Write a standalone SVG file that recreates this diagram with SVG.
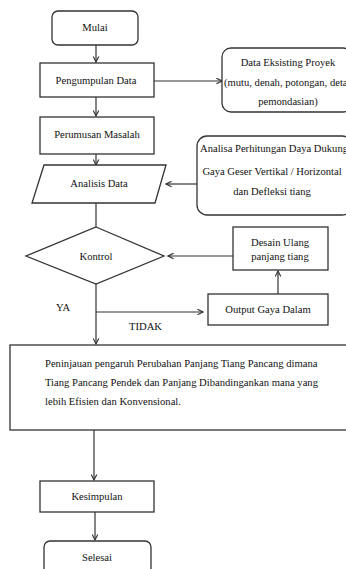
<svg xmlns="http://www.w3.org/2000/svg" width="346" height="569" viewBox="0 0 346 569">
<style>
.b{fill:#fff;stroke:#333;stroke-width:1.3}
.c{fill:none;stroke:#333;stroke-width:1.2}
text{font-family:"Liberation Serif","Times New Roman",serif;font-size:10.6px;fill:#111}
.m{text-anchor:middle}
</style>
<defs>
<marker id="a" viewBox="0 0 10 10" refX="9" refY="5" markerWidth="7" markerHeight="7" orient="auto" markerUnits="userSpaceOnUse">
<path d="M1,1 L9,5 L1,9" fill="none" stroke="#333" stroke-width="1.6"/>
</marker>
</defs>
<rect width="346" height="569" fill="#fff"/>
<g id="connectors" class="c">
<line x1="96" y1="45" x2="96" y2="62" marker-end="url(#a)"/>
<line x1="154" y1="81" x2="222" y2="81" marker-end="url(#a)"/>
<line x1="96" y1="97" x2="96" y2="116" marker-end="url(#a)"/>
<line x1="96" y1="154" x2="96" y2="165" marker-end="url(#a)"/>
<line x1="197" y1="184" x2="166" y2="184" marker-end="url(#a)"/>
<line x1="96" y1="203" x2="96" y2="227"/>
<line x1="233" y1="256" x2="168" y2="256" marker-end="url(#a)"/>
<line x1="278" y1="294" x2="278" y2="271" marker-end="url(#a)"/>
<line x1="96" y1="284" x2="96" y2="344" marker-end="url(#a)"/>
<line x1="96" y1="312" x2="203" y2="312" marker-end="url(#a)"/>
<line x1="94" y1="430" x2="94" y2="480" marker-end="url(#a)"/>
<line x1="95" y1="512" x2="95" y2="540" marker-end="url(#a)"/>
</g>
<g id="mulai"><rect class="b" x="52" y="11" width="86" height="34" rx="6"/><text class="m" x="95" y="31">Mulai</text></g>
<g id="pengumpulan"><rect class="b" x="40" y="63" width="114" height="34"/><text class="m" x="96" y="84">Pengumpulan Data</text></g>
<g id="data-eksisting"><rect class="b" x="222" y="48" width="130" height="64" rx="9"/>
<text class="m" x="288" y="66">Data Eksisting Proyek</text>
<text x="224" y="86">(mutu, denah, potongan, detail</text>
<text class="m" x="288" y="105">pemondasian)</text></g>
<g id="perumusan"><rect class="b" x="40" y="117" width="114" height="37"/><text class="m" x="97" y="138">Perumusan Masalah</text></g>
<g id="analisis"><polygon class="b" points="44,165 166,165 155,203 32,203"/><text class="m" x="99" y="187">Analisis Data</text></g>
<g id="analisa"><rect class="b" x="197" y="136" width="155" height="79" rx="10"/>
<text class="m" x="274" y="152">Analisa Perhitungan Daya Dukung</text>
<text class="m" x="272" y="175">Gaya Geser Vertikal / Horizontal</text>
<text class="m" x="272" y="195">dan Defleksi tiang</text></g>
<g id="kontrol"><polygon class="b" points="96,227 164,256 96,284 26,256"/><text class="m" x="96" y="260">Kontrol</text></g>
<g id="desain"><rect class="b" x="233" y="227" width="95" height="43"/>
<text class="m" x="280" y="246">Desain Ulang</text>
<text class="m" x="280" y="260">panjang tiang</text></g>
<g id="output"><rect class="b" x="208" y="294" width="120" height="31"/><text class="m" x="268" y="313">Output Gaya Dalam</text></g>
<g id="labels"><text x="56" y="311">YA</text><text x="129" y="330">TIDAK</text></g>
<g id="peninjauan"><rect class="b" x="10" y="345" width="345" height="85"/>
<text x="45" y="367">Peninjauan pengaruh Perubahan Panjang Tiang Pancang dimana</text>
<text x="45" y="386">Tiang Pancang Pendek dan Panjang Dibandingankan mana yang</text>
<text x="45" y="405">lebih Efisien dan Konvensional.</text></g>
<g id="kesimpulan"><rect class="b" x="40" y="481" width="114" height="31"/><text class="m" x="97" y="500">Kesimpulan</text></g>
<g id="selesai"><rect class="b" x="44" y="541" width="107" height="40" rx="6"/><text class="m" x="97" y="561">Selesai</text></g>
</svg>
